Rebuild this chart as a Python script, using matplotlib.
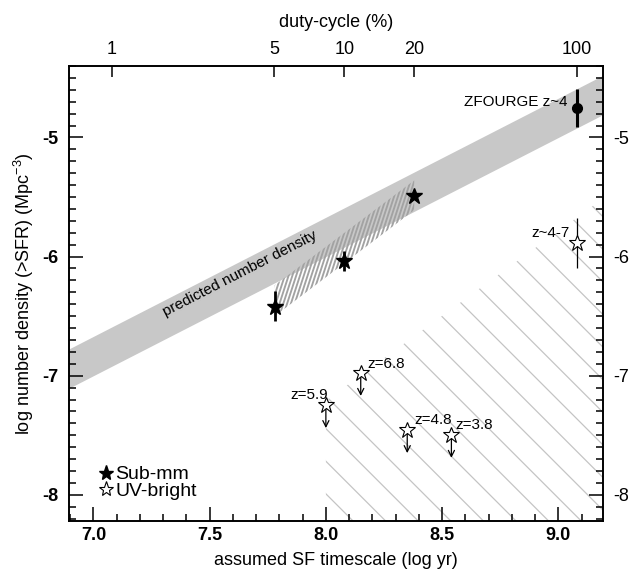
import numpy as np
import matplotlib
matplotlib.use("Agg")
import matplotlib.pyplot as plt
from matplotlib.patches import Polygon
from matplotlib.collections import LineCollection
from matplotlib.lines import Line2D

plt.rcParams["font.family"] = "Liberation Sans"
plt.rcParams["axes.unicode_minus"] = False
plt.rcParams["mathtext.fontset"] = "custom"
plt.rcParams["mathtext.rm"] = "Liberation Sans"
plt.rcParams["mathtext.it"] = "Liberation Sans:italic"

# predicted number density band: log n = log t + offset
band_lo = -14.0
band_hi = -13.67

# sub-mm sources (duty cycles 5, 10, 20 %)
submm_x = [7.78, 8.08, 8.38]
submm_y = [-6.42, -6.04, -5.49]
submm_err_lo = [0.125, 0.085, 0.0]
submm_err_hi = [0.13, 0.085, 0.0]
# hatched zone around the sub-mm points
submm_zone_x = [7.78, 8.38]
submm_zone_top = [-6.24, -5.36]
submm_zone_bot = [-6.50, -5.61]

# UV-bright upper limits
uv_x = [8.0, 8.15, 8.35, 8.54]
uv_y = [-7.25, -6.98, -7.46, -7.50]
uv_labels = ["z=5.9", "z=6.8", "z=4.8", "z=3.8"]
uv_label_x = [7.848, 8.18, 8.379, 8.558]
uv_label_y = [-7.16, -6.90, -7.37, -7.41]

# UV-bright z~4-7 and ZFOURGE z~4
uvall_x, uvall_y, uvall_err = 9.08, -5.89, 0.21
zf_x, zf_y, zf_err = 9.08, -4.75, 0.16

# excluded (hatched) zone at lower right
excl_x = [8.0, 9.25]
excl_top = [-7.21, -5.43]
excl_bot = [-8.4, -8.4]

duty = [1, 5, 10, 20, 100]
duty_zero = 7.08  # log t at 1 % duty cycle


def hatch(ax, xs, top, bot, angle, step, anchor, **kw):
    # straight hatch lines (angle in screen degrees, step = horizontal spacing in px)
    pts = list(zip(xs, top)) + list(zip(xs[::-1], bot[::-1]))
    poly = Polygon(pts, closed=True, fc="none", ec="none", transform=ax.transData)
    ax.add_patch(poly)
    disp = ax.transData.transform(pts)
    a = np.radians(angle)
    d = np.array([np.cos(a), np.sin(a)])
    n = np.array([-np.sin(a), np.cos(a)])
    proj = disp @ n
    p0 = ax.transData.transform(anchor) @ n
    gap = step * abs(np.sin(a))
    ks = np.arange(np.floor((proj.min() - p0) / gap), np.ceil((proj.max() - p0) / gap) + 1)
    tt = disp @ d
    segs = []
    for k in ks:
        p = p0 + k * gap
        s0 = p * n + (tt.min() - 5) * d
        s1 = p * n + (tt.max() + 5) * d
        segs.append(ax.transData.inverted().transform([s0, s1]))
    lc = LineCollection(segs, **kw)
    ax.add_collection(lc)
    lc.set_clip_path(poly)


fig = plt.figure(figsize=(6.42, 5.71), dpi=100)
ax = fig.add_axes([69 / 642, 50 / 571, 533.5 / 642, 455 / 571])
ax.set_xlim(6.895, 9.19)
ax.set_ylim(-8.22, -4.40)

# band
xb = np.array([6.8, 9.3])
ax.fill_between(xb, xb + band_lo, xb + band_hi, color="#c8c8c8", lw=0, zorder=1)
ax.text(7.632, -6.14, "predicted number density", rotation=27.2, rotation_mode="anchor",
        ha="center", va="center", fontsize=11, zorder=3)

# hatching
hatch(ax, submm_zone_x, submm_zone_top, submm_zone_bot, 72, 3.8, (7.8, -6.3),
      colors="#a2a2a2", linewidths=1.35, zorder=2)
hatch(ax, excl_x, excl_top, excl_bot, -45, 32.6, (8.33, -6.72),
      colors="#c4c4c4", linewidths=0.9, zorder=1)

# sub-mm
ax.errorbar(submm_x, submm_y, yerr=[submm_err_lo, submm_err_hi], fmt="none",
            ecolor="k", elinewidth=2, capsize=0, zorder=4)
ax.plot(submm_x, submm_y, "*", color="k", ms=12, zorder=5)

# UV-bright limits
for x, y in zip(uv_x, uv_y):
    ax.annotate("", xy=(x, y - 0.19), xytext=(x, y),
                arrowprops=dict(arrowstyle="->", lw=0.9, color="k", shrinkA=0, shrinkB=0,
                                mutation_scale=11), zorder=4)
ax.plot(uv_x, uv_y, "*", mfc="white", mec="k", mew=0.8, ms=12, zorder=5)
for lx, ly, t in zip(uv_label_x, uv_label_y, uv_labels):
    ax.text(lx, ly, t, fontsize=11, ha="left", va="center", zorder=6)

ax.errorbar([uvall_x], [uvall_y], yerr=uvall_err, fmt="none", ecolor="k", elinewidth=0.9,
            capsize=0, zorder=4)
ax.plot([uvall_x], [uvall_y], "*", mfc="white", mec="k", mew=0.8, ms=12, zorder=5)
ax.text(9.05, -5.80, "z~4-7", fontsize=11, ha="right", va="center")

ax.errorbar([zf_x], [zf_y], yerr=zf_err, fmt="none", ecolor="k", elinewidth=2.2,
            capsize=0, zorder=4)
ax.plot([zf_x], [zf_y], "o", color="k", ms=7, zorder=5)
ax.text(9.041, -4.70, "ZFOURGE z~4", fontsize=11, ha="right", va="center")

# legend
handles = [Line2D([], [], ls="none", marker="*", color="k", ms=11),
           Line2D([], [], ls="none", marker="*", mfc="white", mec="k", mew=0.8, ms=11)]
ax.legend(handles, ["Sub-mm", "UV-bright"], loc="lower left", bbox_to_anchor=(0.054, 0.046),
          frameon=False, fontsize=14, handlelength=0.8, handletextpad=0.1,
          labelspacing=-0.05, borderpad=0, borderaxespad=0)

# axes styling
ax.set_xticks([7.0, 7.5, 8.0, 8.5, 9.0])
ax.set_xticklabels(["7.0", "7.5", "8.0", "8.5", "9.0"], fontweight="bold")
ax.set_xticks(np.arange(6.9, 9.2, 0.1), minor=True)
ax.set_yticks([-8, -7, -6, -5])
ax.set_yticks(np.arange(-8.2, -4.35, 0.1), minor=True)
ax.tick_params(which="both", direction="in", top=False, right=True, labelright=True,
               labelsize=13, width=1.1)
ax.tick_params(which="major", length=10)
ax.tick_params(which="minor", length=5)
ax.tick_params(axis="x", pad=4)
ax.tick_params(axis="y", which="major", pad=8)
for tk in ax.yaxis.get_major_ticks():
    tk.label1.set_fontweight("bold")
    tk.label2.set_fontweight("normal")
for sp in ax.spines.values():
    sp.set_linewidth(1.2)

ax.set_xlabel("assumed SF timescale (log yr)", fontsize=13, labelpad=6)
ax.set_ylabel("log number density (>SFR) (Mpc$^{-3}$)", fontsize=13, labelpad=4)

ax2 = ax.twiny()
ax2.set_xlim(ax.get_xlim())
ax2.set_xticks([duty_zero + np.log10(d) for d in duty])
ax2.set_xticklabels([str(d) for d in duty])
ax2.tick_params(direction="in", length=8, width=1.1, labelsize=13, pad=6)
ax2.set_xlabel("duty-cycle (%)", fontsize=13, labelpad=10)
for sp in ax2.spines.values():
    sp.set_linewidth(1.2)

fig.savefig("out.png", dpi=100)
